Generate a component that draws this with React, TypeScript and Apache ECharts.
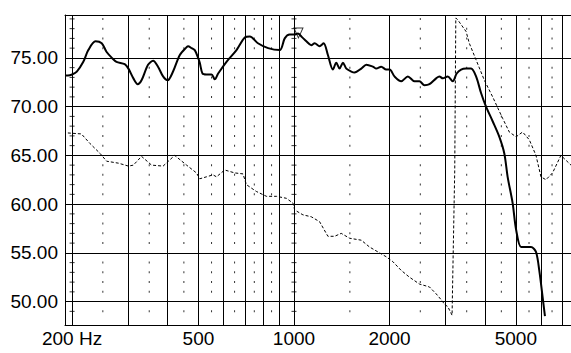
import React, { useEffect, useRef } from "react";
import * as echarts from "echarts";

// Grid frequencies (Hz)
const majorFreqs = [200, 300, 400, 500, 600, 700, 800, 900, 1000, 2000, 3000, 4000, 5000, 6000, 7000];
const labelFreqs = [200, 500, 1000, 2000, 5000];
const halfFreqs = [250, 350, 450, 550, 650, 750, 850, 1500, 2500, 3500, 4500, 5500, 6500, 7500];
const tickFreqs = [200, 1000];
// Grid levels (dB)
const majorDb = [50, 55, 60, 65, 70, 75];
const minorDb = [49, 51, 52, 53, 54, 56, 57, 58, 59, 61, 62, 63, 64, 66, 67, 68, 69, 71, 72, 73, 74, 76, 77, 78, 79];

// Solid response: [frequency Hz, level dB]
const solidResponse = [
  [190, 73.2], [194, 73.2], [200, 73.3], [207, 73.6], [217, 74.6], [225, 75.8], [237, 76.7], [248, 76.5],
  [257, 75.6], [267, 75.0], [276, 74.6], [293, 74.35], [301, 73.9], [312, 72.9], [322, 72.3], [331, 72.7],
  [347, 74.3], [360, 74.7], [373, 74.1], [387, 73.1], [400, 72.7], [416, 73.6], [437, 75.3], [459, 76.1],
  [464, 76.2], [476, 76.0], [487, 75.8], [499, 75.0], [505, 74.5], [515, 73.4], [530, 73.3], [550, 73.3],
  [563, 72.8], [577, 73.4], [613, 74.6], [659, 75.8], [700, 77.1], [726, 77.2], [770, 76.5], [829, 76.0],
  [902, 75.8], [935, 77.0], [969, 77.4], [1005, 77.4], [1029, 77.5], [1055, 77.2], [1094, 76.7], [1134, 76.3],
  [1162, 76.5], [1204, 76.2], [1240, 76.5], [1279, 75.3], [1326, 73.8], [1359, 74.5], [1392, 73.9], [1426, 74.5],
  [1462, 73.9], [1515, 73.6], [1552, 73.5], [1629, 73.9], [1690, 74.3], [1772, 74.1], [1816, 73.9], [1883, 74.1],
  [1952, 73.8], [2001, 73.8], [2073, 73.1], [2177, 72.6], [2284, 73.1], [2397, 72.6], [2485, 72.6], [2576, 72.2],
  [2672, 72.3], [2804, 72.9], [2872, 73.1], [2942, 72.9], [3050, 73.1], [3162, 72.6], [3255, 73.4], [3361, 73.8],
  [3485, 73.9], [3613, 73.9], [3746, 73.1], [3884, 71.4], [4027, 70.0], [4225, 68.5], [4435, 66.9], [4598, 65.2],
  [4710, 62.8], [4884, 60.1], [5007, 57.4], [5191, 55.6], [5381, 55.6], [5579, 55.6], [5785, 55.1], [5925, 53.2],
  [6068, 50.5], [6174, 48.5],
];

// Dashed response: [frequency Hz, level dB]
const dashedResponse = [
  [194, 67.3], [214, 67.2], [228, 66.2], [245, 65.2], [257, 64.4], [280, 64.2], [301, 63.9], [312, 64.0],
  [331, 64.9], [356, 64.0], [387, 63.9], [421, 65.0], [459, 64.0], [493, 63.2], [505, 62.6], [530, 62.8],
  [556, 63.0], [570, 62.8], [605, 63.5], [651, 63.2], [691, 63.1], [708, 62.0], [761, 61.3], [819, 60.8],
  [880, 60.8], [946, 60.6], [993, 60.1], [1005, 59.4], [1067, 58.9], [1134, 58.7], [1204, 58.2], [1279, 56.7],
  [1343, 56.7], [1409, 57.0], [1497, 56.5], [1629, 56.3], [1730, 55.6], [1860, 55.0], [1952, 54.6], [2048, 54.1],
  [2177, 53.2], [2312, 52.5], [2485, 51.8], [2672, 51.5], [2804, 50.8], [2942, 50.0], [2978, 49.7], [3050, 49.5],
  [3148, 48.6], [3162, 52.2], [3209, 63.4], [3234, 79.1], [3280, 78.9], [3485, 77.7], [3567, 76.5], [3746, 74.8],
  [3979, 72.7], [4225, 71.0], [4542, 68.8], [4767, 67.4], [5007, 66.9], [5250, 67.4], [5511, 66.6], [5785, 65.0],
  [5998, 62.8], [6218, 62.5], [6523, 63.2], [6932, 65.0], [7189, 64.5], [7458, 64.0],
];

// Marker on the solid curve
const markerPoint = [[1033, 77.56]];

const X_MIN = 190;
const X_MAX = 7458;
const Y_MIN = 47.6;
const Y_MAX = 79.4;

const FONT = "'Liberation Sans', Arial, sans-serif";

export default function App() {
  const ref = useRef<HTMLDivElement>(null);
  useEffect(() => {
    if (!ref.current) return;
    const chart = echarts.init(ref.current, undefined, { renderer: "svg" });

    const dots: number[][] = [];
    halfFreqs.forEach((f) => minorDb.forEach((d) => dots.push([f, d])));
    const ticks: number[][] = [];
    tickFreqs.forEach((f) => minorDb.forEach((d) => ticks.push([f, d])));

    const xBase = {
      type: "log" as const,
      logBase: 10,
      min: X_MIN,
      max: X_MAX,
    };

    chart.setOption({
      animation: false,
      backgroundColor: "#fff",
      grid: { left: 65, right: 0, top: 15, bottom: 28, containLabel: false },
      xAxis: [
        {
          ...xBase,
          position: "bottom",
          axisLine: { show: true, lineStyle: { color: "#000", width: 1 } },
          axisTick: { show: false, customValues: majorFreqs },
          splitLine: { show: true, lineStyle: { color: "#000", width: 1 } },
          minorTick: { show: false },
          minorSplitLine: { show: false },
          axisLabel: {
            customValues: labelFreqs,
            formatter: (v: number) => (Math.round(v) === 200 ? "200 Hz" : String(Math.round(v))),
            color: "#000",
            fontSize: 19,
            fontFamily: FONT,
            margin: 4,
          },
        },
        {
          ...xBase,
          position: "top",
          axisLine: { show: true, lineStyle: { color: "#000", width: 1 } },
          axisTick: { show: false },
          splitLine: { show: false },
          axisLabel: { show: false },
        },
      ],
      yAxis: {
        type: "value",
        min: Y_MIN,
        max: Y_MAX,
        axisLine: { show: true, lineStyle: { color: "#000", width: 1 } },
        axisTick: { show: false, customValues: majorDb },
        splitLine: { show: true, lineStyle: { color: "#000", width: 1 } },
        axisLabel: {
          customValues: majorDb,
          formatter: (v: number) => v.toFixed(2),
          color: "#000",
          fontSize: 19,
          fontFamily: FONT,
          margin: 7,
        },
      },
      series: [
        {
          type: "scatter",
          data: dots,
          symbol: "rect",
          symbolSize: [1, 2],
          itemStyle: { color: "#000" },
          silent: true,
          z: 1,
        },
        {
          type: "scatter",
          data: ticks,
          symbol: "rect",
          symbolSize: [5, 1],
          itemStyle: { color: "#000" },
          silent: true,
          z: 1,
        },
        {
          type: "line",
          data: dashedResponse,
          showSymbol: false,
          lineStyle: { color: "#000", width: 1, type: [3, 2] },
          z: 2,
        },
        {
          type: "line",
          data: solidResponse,
          showSymbol: false,
          smooth: 0.3,
          lineStyle: { color: "#000", width: 2 },
          z: 3,
        },
        {
          type: "scatter",
          data: markerPoint,
          symbol: "triangle",
          symbolRotate: 180,
          symbolSize: [9, 10],
          itemStyle: { color: "rgba(0,0,0,0)", borderColor: "#000", borderWidth: 1 },
          z: 4,
        },
      ],
    });
    return () => chart.dispose();
  }, []);
  return (
    <div
      ref={ref}
      style={{ position: "fixed", left: 0, top: 0, width: 571, height: 353, background: "#fff" }}
    />
  );
}
